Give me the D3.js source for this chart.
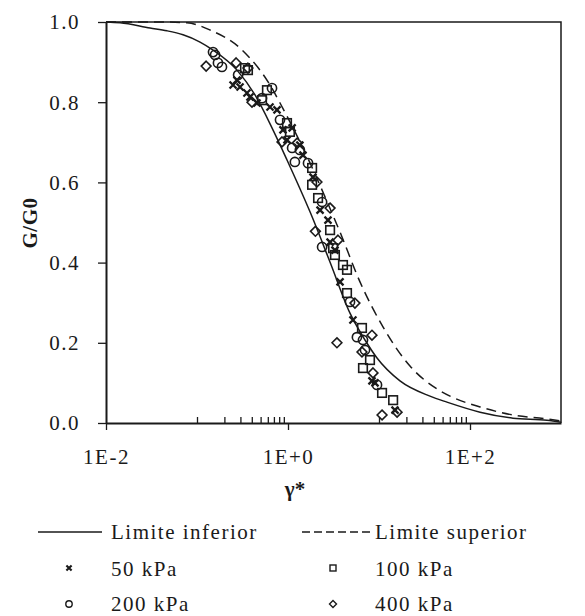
<!DOCTYPE html>
<html><head><meta charset="utf-8">
<script src="https://cdn.jsdelivr.net/npm/d3@7"></script>
<style>
html,body{margin:0;padding:0;background:#fff;overflow:hidden}
svg{display:block}
</style></head>
<body>
<svg id="chart" width="585" height="616"></svg>
<script>
// ---- data ----
const xMajorTicks = [0.01, 1, 100];
const xTickLabels = ["1E-2", "1E+0", "1E+2"];
const xMinorTicks = [0.1,0.2,0.3,0.4,0.5,0.6,0.7,0.8,0.9,10,20,30,40,50,60,70,80,90];
const yTicks = [0, 0.2, 0.4, 0.6, 0.8, 1.0];

const limiteInferior = [[0.01,1.000],[0.0143,0.998],[0.0305,0.985],[0.0468,0.978],[0.0702,0.968],[0.108,0.950],[0.150,0.930],[0.275,0.880],[0.434,0.818],[0.667,0.736],[0.975,0.656],[1.75,0.526],[2.90,0.401],[4.80,0.274],[7.02,0.207],[9.51,0.162],[17.0,0.105],[36.3,0.067],[55.8,0.052],[129,0.027],[297,0.012],[701,0.007],[1000,0.002]];
const limiteSuperior = [[0.01,1.000],[0.0392,1.000],[0.0776,0.998],[0.139,0.980],[0.297,0.935],[0.382,0.910],[0.492,0.880],[0.634,0.843],[0.817,0.798],[1.05,0.751],[1.75,0.648],[2.55,0.564],[3.73,0.476],[6.18,0.352],[11.1,0.239],[21.9,0.142],[43.4,0.085],[60.3,0.067],[129,0.040],[297,0.020],[701,0.010],[1000,0.005]];

const s50 = [[0.249,0.843],[0.275,0.855],[0.297,0.838],[0.354,0.823],[0.382,0.813],[0.456,0.798],[0.634,0.788],[0.757,0.781],[0.881,0.731],[0.975,0.706],[1.11,0.736],[1.35,0.693],[1.46,0.668],[1.88,0.613],[2.25,0.531],[2.75,0.506],[2.90,0.451],[3.28,0.431],[3.73,0.352],[5.17,0.257],[8.37,0.105],[9.04,0.100],[15.0,0.032]];
const s100 = [[0.337,0.885],[0.363,0.880],[0.518,0.805],[0.587,0.830],[0.975,0.748],[1.05,0.726],[1.84,0.636],[1.84,0.594],[2.14,0.561],[2.90,0.481],[3.13,0.436],[3.28,0.419],[4.02,0.394],[4.45,0.382],[4.45,0.324],[6.50,0.237],[7.96,0.157],[6.67,0.137],[10.8,0.075],[14.3,0.057]];
const s200 = [[0.150,0.925],[0.158,0.918],[0.170,0.898],[0.188,0.888],[0.283,0.868],[0.518,0.810],[0.667,0.835],[0.817,0.756],[1.11,0.686],[1.19,0.651],[1.35,0.681],[1.66,0.648],[2.37,0.551],[2.37,0.439],[4.80,0.302],[5.72,0.214],[6.67,0.207],[7.02,0.182],[9.51,0.095]];
const s400 = [[0.126,0.890],[0.269,0.898],[0.363,0.885],[0.402,0.800],[0.859,0.701],[1.26,0.698],[2.08,0.601],[2.90,0.536],[2.00,0.478],[3.54,0.456],[5.44,0.299],[8.37,0.219],[3.45,0.200],[6.50,0.177],[8.59,0.125],[15.8,0.027],[10.8,0.020]];

const legendLabels = ["Limite inferior", "Limite superior", "50 kPa", "100 kPa", "200 kPa", "400 kPa"];

// ---- drawing ----
const ink = "#1a1a1a";
const FONT = '"Liberation Serif"';
const svg = d3.select("#chart");
const L = 106, R = 561, T = 22, B = 423;
const x = d3.scaleLog().domain([0.01, 1000]).range([L, R]);
const y = d3.scaleLinear().domain([0, 1]).range([B, T]);

// frame (top & right)
svg.append("path").attr("d", `M${L},${T}H${R}V${B}`).attr("fill","none").attr("stroke",ink).attr("stroke-width",1.5);

// x axis major
const gx = svg.append("g").attr("transform", `translate(0,${B})`)
  .call(d3.axisBottom(x).tickValues(xMajorTicks).tickSize(7).tickSizeOuter(0).tickPadding(19)
    .tickFormat((d,i)=>xTickLabels[i]));
// x minor (inside)
const gxm = svg.append("g").attr("transform", `translate(0,${B})`)
  .call(d3.axisTop(x).tickValues(xMinorTicks).tickSize(6).tickSizeOuter(0).tickFormat(""));
gxm.select(".domain").remove();

// y axis
const gy = svg.append("g").attr("transform", `translate(${L},0)`)
  .call(d3.axisLeft(y).tickValues(yTicks).tickSize(8).tickSizeOuter(0).tickPadding(18)
    .tickFormat(d=>d.toFixed(1)));

[gx, gy].forEach(g=>{
  g.select(".domain").attr("stroke", ink).attr("stroke-width", 2);
  g.selectAll(".tick line").attr("stroke", ink).attr("stroke-width", 1.3);
  g.selectAll(".tick text").style("font-family", FONT).attr("font-size", 21)
    .attr("letter-spacing", "1.5px").attr("fill", ink);
});
gxm.selectAll(".tick line").attr("stroke", ink).attr("stroke-width", 1.3);
gy.selectAll(".tick text").attr("dy", "0.33em");

// axis titles
svg.append("text").attr("x", 295).attr("y", 496).attr("text-anchor","middle").style("font-family", FONT)
  .attr("font-size", 21).attr("font-weight","bold").attr("fill", ink).text("γ*");
svg.append("text").attr("transform","translate(37,223) rotate(-90)").attr("text-anchor","middle").style("font-family", FONT)
  .attr("font-size", 21).attr("font-weight","bold").attr("fill", ink).attr("letter-spacing","0.5px").text("G/G0");

// curves
const line = d3.line().x(d=>x(d[0])).y(d=>y(d[1])).curve(d3.curveMonotoneX);
svg.append("path").datum(limiteInferior).attr("d", line).attr("fill","none").attr("stroke",ink).attr("stroke-width",1.5);
svg.append("path").datum(limiteSuperior).attr("d", line).attr("fill","none").attr("stroke",ink).attr("stroke-width",1.5).attr("stroke-dasharray","10,6");

// markers
function drawMarker(g, type, cx, cy, s, w) {
  if (type === "x") {
    g.append("path").attr("d", `M${cx-s},${cy-s}L${cx+s},${cy+s}M${cx-s},${cy+s}L${cx+s},${cy-s}`)
      .attr("stroke", ink).attr("stroke-width", w + 0.7).attr("fill","none");
  } else if (type === "square") {
    g.append("rect").attr("x", cx-s).attr("y", cy-s).attr("width", 2*s).attr("height", 2*s)
      .attr("fill","none").attr("stroke", ink).attr("stroke-width", w);
  } else if (type === "circle") {
    g.append("circle").attr("cx", cx).attr("cy", cy).attr("r", s)
      .attr("fill","none").attr("stroke", ink).attr("stroke-width", w);
  } else if (type === "diamond") {
    g.append("path").attr("d", `M${cx},${cy-s}L${cx+s},${cy}L${cx},${cy+s}L${cx-s},${cy}Z`)
      .attr("fill","none").attr("stroke", ink).attr("stroke-width", w);
  }
}
const series = [
  {data: s50, type: "x", size: 3.5, lsize: 2.6},
  {data: s100, type: "square", size: 4.3, lsize: 3},
  {data: s200, type: "circle", size: 4.6, lsize: 3.2},
  {data: s400, type: "diamond", size: 4.9, lsize: 3.5}
];
const gm = svg.append("g");
series.forEach(s => s.data.forEach(d => drawMarker(gm, s.type, x(d[0]), y(d[1]), s.size, 1.6)));

// legend
const lg = svg.append("g");
lg.append("line").attr("x1",38).attr("x2",102).attr("y1",532).attr("y2",532).attr("stroke",ink).attr("stroke-width",1.5);
lg.append("line").attr("x1",302).attr("x2",370).attr("y1",532).attr("y2",532).attr("stroke",ink).attr("stroke-width",1.5).attr("stroke-dasharray","8,4");
const legendPos = [[111,539],[375,539],[111,576],[375,576],[111,611],[375,611]];
legendLabels.forEach((t,i)=>{
  lg.append("text").attr("x", legendPos[i][0]).attr("y", legendPos[i][1]).style("font-family", FONT)
    .attr("font-size",21).attr("letter-spacing","1.5px").attr("fill", ink).text(t);
});
const markerPos = [[69,568],[333,568],[69,604],[333,604]];
series.forEach((s,i)=>drawMarker(lg, s.type, markerPos[i][0], markerPos[i][1], s.lsize, 1.4));
</script>
</body></html>
